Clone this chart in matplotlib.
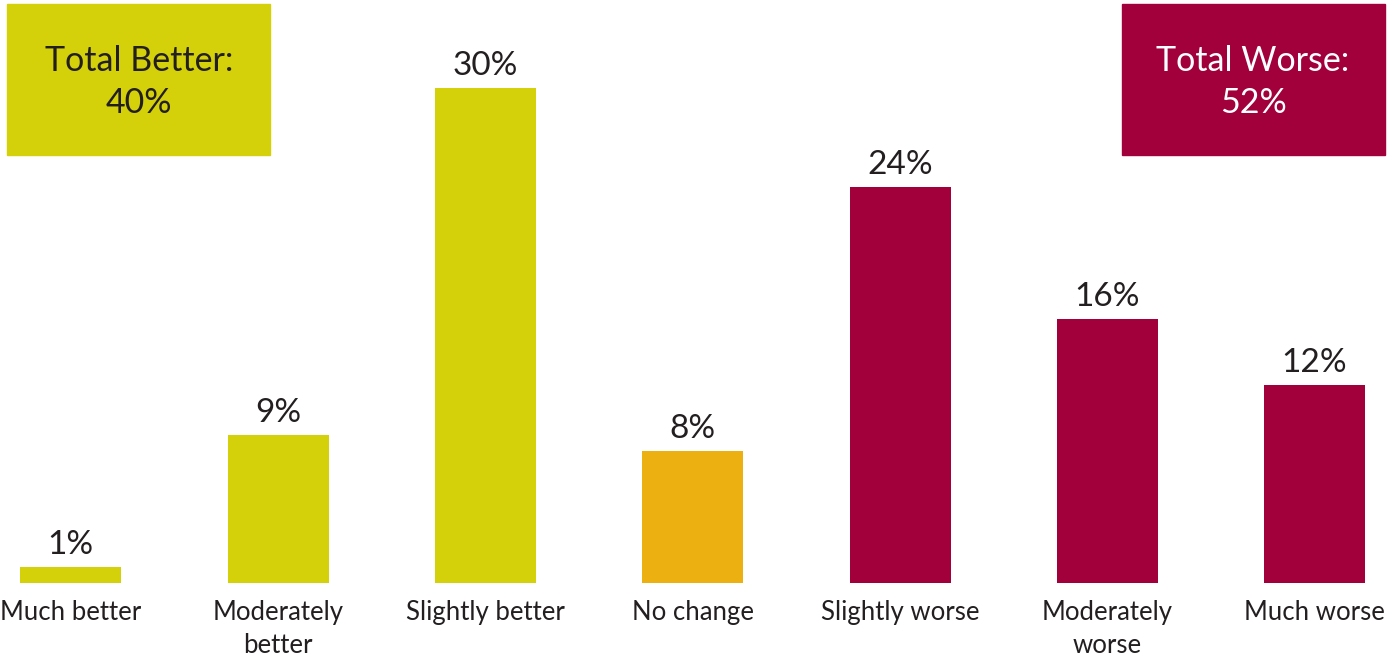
import matplotlib
matplotlib.use("Agg")
import matplotlib.pyplot as plt
from matplotlib.patches import Rectangle

categories = ["Much better", "Moderately\nbetter", "Slightly better", "No change",
              "Slightly worse", "Moderately\nworse", "Much worse"]
values = [1, 9, 30, 8, 24, 16, 12]
groups = ["better", "better", "better", "neutral", "worse", "worse", "worse"]
total_better = 40
total_worse = 52

colors = {"better": "#D4D00A", "neutral": "#EDB011", "worse": "#A1003B"}
text_dark = "#231F20"

plt.rcParams['font.family'] = ['Lato', 'DejaVu Sans']

W, H = 1399, 659
fig = plt.figure(figsize=(W / 100, H / 100), dpi=100)
ax = fig.add_axes([0, 76 / H, 1, 583 / H])

x = list(range(len(values)))
step = 207.3
x0 = 70.8
ax.bar(x, values, width=101 / step, color=[colors[g] for g in groups])
for xi, v in zip(x, values):
    ax.annotate(f"{v}%", (xi, v), xytext=(0, 5), textcoords="offset points",
                ha="center", va="bottom", fontsize=24, color=text_dark)

ax.set_xlim(-x0 / step, (W - x0) / step)
ax.set_ylim(0, 583 / 16.5)
ax.set_xticks(x)
ax.set_xticklabels(categories, fontsize=18.5, color=text_dark, linespacing=1.4, va="top")
ax.tick_params(axis="x", length=0, pad=12)
ax.set_yticks([])
for s in ax.spines.values():
    s.set_visible(False)

# Summary boxes
fig.patches.append(Rectangle((7 / W, 1 - 155 / H), 263 / W, 151 / H,
                             transform=fig.transFigure, color=colors["better"], zorder=0))
fig.patches.append(Rectangle((1122 / W, 1 - 155 / H), 263 / W, 151 / H,
                             transform=fig.transFigure, color=colors["worse"], zorder=0))
fig.text(139 / W, 1 - 82 / H, f"Total Better:\n{total_better}%", ha="center", va="center",
         fontsize=24.5, color=text_dark, linespacing=1.4)
fig.text(1253 / W, 1 - 82 / H, f"Total Worse:\n{total_worse}%", ha="center", va="center",
         fontsize=24.5, color="white", linespacing=1.4)

fig.savefig("out.png", dpi=100)
